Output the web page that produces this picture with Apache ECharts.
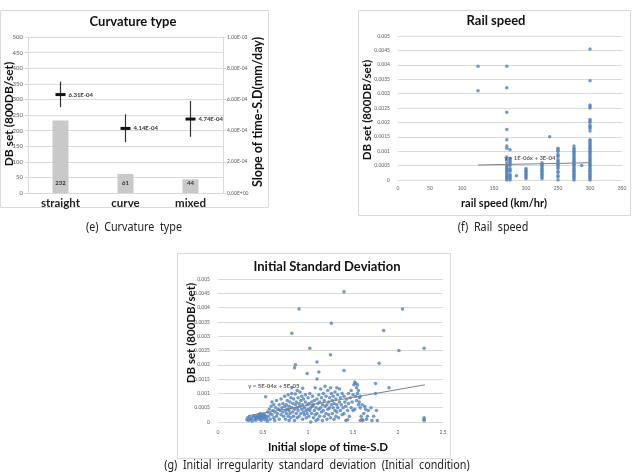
<!DOCTYPE html>
<html><head><meta charset="utf-8">
<script src="https://cdn.jsdelivr.net/npm/echarts@6/dist/echarts.min.js"></script>
<style>html,body{margin:0;padding:0;background:#fff}#c{width:634px;height:474px}</style>
</head><body><div id="c"></div>
<script>
// ---- (e) Curvature type ----
const curvCategories = ['straight', 'curve', 'mixed'];
const curvCounts = [232, 61, 44];
const curvMeans = [6.31e-4, 4.14e-4, 4.74e-4];
const curvLow = [5.5e-4, 3.26e-4, 3.6e-4];
const curvHigh = [7.14e-4, 5.04e-4, 5.9e-4];
const curvLeftTicks = { min: 0, max: 500, interval: 50 };
const curvRightTicks = { min: 0, max: 1e-3, interval: 2e-4 };

// ---- (f) Rail speed ----
const speedGroups = [125, 170, 175, 185, 200, 225, 237, 250, 275, 287, 300];
const speedValues = [
  [0.00395, 0.0031],
  [0.00395, 0.0032, 0.00235, 0.00175, 0.0014, 0.00118, 0.0011, 0.0008, 0.0007, 0.0006, 0.0005, 0.00045, 0.0004, 0.00035, 0.0003, 0.00025, 0.0002, 0.00015, 0.0001, 0.00005, 0],
  [0.00105, 0.00075, 0.0007, 0.00065, 0.0006, 0.00055, 0.0005, 0.0004, 0.00035, 0.0003, 0.0002, 0.00015, 0.0001, 0.00005, 0],
  [0.00015],
  [0.0004, 0.00035, 0.0003, 0.00025, 0.0002, 0.00015, 0.0001, 0.00005],
  [0.0006, 0.00055, 0.0005, 0.00045, 0.0004, 0.00035, 0.0003, 0.00025, 0.0002, 0.00015, 0.0001, 0.00005],
  [0.0015],
  [0.0011, 0.00105, 0.001, 0.0009, 0.00085, 0.0008, 0.0007, 0.00065, 0.0006, 0.00055, 0.0005, 0.00045, 0.0004, 0.0003, 0.00025, 0.00015, 0.0001, 0],
  [0.00118, 0.0011, 0.00105, 0.001, 0.00095, 0.0009, 0.00085, 0.0008, 0.00075, 0.0007, 0.00065, 0.0006, 0.00055, 0.0005, 0.00045, 0.0004, 0.00035, 0.0003, 0.00025, 0.0002, 0.00015, 0.0001, 0.00005, 0],
  [0.0005],
  [0.00455, 0.00345, 0.0026, 0.00255, 0.0025, 0.0021, 0.00205, 0.002, 0.0019, 0.00185, 0.0018, 0.0017, 0.0014, 0.00135, 0.0013, 0.00125, 0.0012, 0.00115, 0.0011, 0.00105, 0.001, 0.00095, 0.0009, 0.00085, 0.0008, 0.00075, 0.0007, 0.00065, 0.0006, 0.00055, 0.0005, 0.00045, 0.0004, 0.00035, 0.0003, 0.00025, 0.0002, 0.00015, 0.0001, 0.00005, 0]
];
const speedTrend = [[125, 0.00052], [300, 0.0006]];
const speedTrendLabel = 'y = 1E-06x + 3E-04';

// ---- (g) Initial Standard Deviation ----
const initPoints = [
  [0.32,0.00008],[0.33,0.00015],[0.34,0.00005],[0.35,0.0002],[0.36,0.0001],[0.37,0.00012],[0.38,0.00003],[0.39,0.00018],[0.40,0.00022],[0.41,0.0001],[0.42,0.00006],[0.43,0.00015],[0.44,0.0002],[0.45,0.00025],[0.46,0.0001],[0.47,0.00018],[0.48,0.00022],[0.48,0.00005],[0.49,0.00012],[0.50,0.0002],[0.50,0.00028],[0.51,0.00015],[0.52,0.00008],[0.53,0.0002],[0.54,0.00012],[0.55,0.00003],[0.45,0.00015],[0.47,0.0003],[0.42,0.00018],[0.52,0.00025],
  [0.55,0.00035],[0.56,0.0002],[0.57,0.00045],[0.58,0.0001],[0.58,0.0003],[0.59,0.00055],[0.60,0.00025],[0.61,0.0004],[0.62,0.00015],[0.62,0.0006],[0.63,0.00035],[0.64,0.0005],[0.65,0.0002],[0.65,0.00075],[0.66,0.0003],[0.67,0.00045],[0.68,0.0001],[0.68,0.0006],[0.69,0.0004],[0.70,0.00025],[0.70,0.0008],[0.71,0.0005],[0.72,0.00035],[0.72,0.00065],[0.73,0.0002],[0.74,0.00055],[0.74,0.0009],[0.75,0.0004],[0.75,0.0001],[0.53,0.00088],[0.60,0.0007],[0.63,0.00005],
  [0.76,0.0006],[0.76,0.0003],[0.77,0.00045],[0.77,0.00075],[0.78,0.0002],[0.78,0.00095],[0.79,0.00055],[0.79,0.0004],[0.80,0.0007],[0.80,0.0003],[0.81,0.00015],[0.81,0.00085],[0.82,0.0005],[0.82,0.001],[0.83,0.00035],[0.83,0.00065],[0.84,0.0002],[0.84,0.0008],[0.85,0.00045],[0.85,0.00005],[0.86,0.0006],[0.86,0.00098],[0.87,0.0003],[0.87,0.0007],[0.88,0.00015],[0.88,0.0005],[0.89,0.00085],[0.89,0.0004],[0.90,0.00065],[0.90,0.0002],[0.91,0.00105],[0.91,0.00055],[0.92,0.0003],[0.92,0.00075],[0.93,0.00045],[0.93,0.0009],[0.94,0.0001],[0.94,0.0006],[0.95,0.00035],[0.95,0.0008],[0.96,0.0005],[0.96,0.00025],[0.97,0.0007],[0.97,0.00095],[0.98,0.0004],[0.98,0.00015],[0.99,0.0006],[0.99,0.0003],[1.00,0.00085],[1.00,0.00045],[0.82,0.0012],[0.88,0.0011],[0.79,0.00005],[0.94,0.00118],
  [1.01,0.0002],[1.01,0.00065],[1.02,0.0004],[1.02,0.001],[1.03,0.0005],[1.03,0.0],[1.04,0.0007],[1.04,0.0003],[1.05,0.0009],[1.05,0.00055],[1.06,0.00015],[1.06,0.0006],[1.07,0.0004],[1.07,0.00075],[1.08,0.00025],[1.08,0.0012],[1.09,0.0005],[1.09,0.00005],[1.10,0.0008],[1.10,0.0003],[1.11,0.00065],[1.11,0.0001],[1.12,0.00045],[1.12,0.00095],[1.13,0.0002],[1.13,0.0007],[1.14,0.0005],[1.14,0.00115],[1.15,0.00035],[1.15,0.00085],[1.16,0.0006],[1.16,0.00005],[1.17,0.0004],[1.17,0.001],[1.18,0.00075],[1.18,0.0002],[1.19,0.00055],[1.19,0.00125],[1.20,0.0003],[1.20,0.0009],[1.21,0.0006],[1.21,0.0001],[1.22,0.00045],[1.22,0.0011],[1.23,0.0007],[1.23,0.00025],[1.24,0.00085],[1.24,0.0005],[1.25,0.0012],[1.25,0.00015],
  [1.26,0.0006],[1.26,0.001],[1.27,0.0003],[1.27,0.00075],[1.28,0.0005],[1.28,0.0009],[1.29,0.0001],[1.29,0.00065],[1.30,0.0004],[1.30,0.00105],[1.31,0.0008],[1.31,0.0002],[1.32,0.0006],[1.32,0.00035],[1.33,0.00095],[1.33,0.0005],[1.34,0.00015],[1.35,0.0007],[1.35,0.00115],[1.36,0.0004],[1.36,0.00085],[1.37,0.0006],[1.38,0.00025],[1.38,0.001],[1.39,0.0005],[1.40,0.0009],[1.40,0.0003],[1.41,0.0007],[1.42,0.00055],[1.42,0.00005],[1.43,0.0008],[1.44,0.0004],[1.45,0.001],[1.45,0.00065],[1.46,0.0002],[1.47,0.00085],[1.48,0.0005],[1.48,0.0011],[1.49,0.0007],[1.50,0.0004],[1.50,0.00095],[1.32,0.0012],[1.44,0.00008],
  [1.51,0.0013],[1.52,0.0014],[1.53,0.00135],[1.53,0.0009],[1.54,0.0012],[1.54,0.00075],[1.55,0.001],[1.55,0.0013],[1.56,0.0006],[1.56,0.0011],[1.57,0.00085],[1.57,0.0007],[1.58,0.0005],[1.52,0.00045],[1.58,0.0009],[1.59,0.0002],[1.60,0.0001],[1.60,0.0006],[1.61,0.00005],[1.62,0.0003],[1.63,0.00055],[1.65,0.0001],[1.66,0.0002],[1.67,0.0004],[1.70,0.0005],[1.71,0.00005],[1.73,0.0002],[1.75,0.001],[1.76,0.0004],[1.77,0.00005],[1.58,0.00005],[1.64,0.00045],
  [0.82,0.0031],[0.9,0.00395],[0.86,0.002],[0.85,0.0019],[1.02,0.00258],[0.99,0.0017],[1.1,0.0021],[1.1,0.0015],[1.12,0.00175],[1.25,0.00235],[1.26,0.00345],[1.4,0.00455],[1.4,0.0018],[1.75,0.00135],[1.79,0.00205],[1.84,0.0032],[1.9,0.0012],[2.01,0.0025],[2.05,0.00395],[2.29,0.00258],[2.29,0.0001],[2.29,0.00005],[2.29,0.00015]
];
const initTrend = [[0.35, 0.00023], [2.3, 0.0013]];
const initTrendLabel = 'y = 5E-04x + 5E-05';

const titles = ['Curvature type', 'Rail speed', 'Initial Standard Deviation'];
const axisNames = ['DB set (800DB/set)', 'Slope of time-S.D(mm/day)', 'rail speed (km/hr)', 'Initial slope of time-S.D'];
const captions = ['(e)  Curvature  type', '(f)  Rail  speed', '(g)  Initial  irregularity  standard  deviation  (Initial  condition)'];

// ---------- build ----------
const FT = 'Lato, "Open Sans", sans-serif';
const CAP = '"Noto Sans", "Open Sans", sans-serif';
const blue = '#4f81bd';
function sci(v) {
  if (!v) return '0.00E+00';
  const e = Math.floor(Math.log10(Math.abs(v)) + 1e-9);
  const m = v / Math.pow(10, e);
  const es = (e < 0 ? '-' : '+') + String(Math.abs(e)).padStart(2, '0');
  return m.toFixed(2) + 'E' + es;
}
const speedData = [];
speedGroups.forEach((s, i) => speedValues[i].forEach(v => speedData.push([s, v])));

const tickLabel = { fontSize: 6, color: '#595959', fontFamily: FT };
const smallTick = { fontSize: 5, color: '#595959', fontFamily: FT };
const gridLine = { show: true, lineStyle: { color: '#d9d9d9', width: 1 } };
function nameText(x, y, text, size, rot) {
  return { type: 'text', x: x, y: y, rotation: rot ? Math.PI / 2 : 0,
    style: { text: text, fontSize: size, fontWeight: 'bold', fill: '#111', fontFamily: FT, align: 'center', verticalAlign: 'middle' } };
}
function capText(x, y, text) {
  return { type: 'text', x: x, y: y, scaleX: 0.86,
    style: { text: text, fontSize: 12.5, fill: '#222', fontFamily: CAP, align: 'center', verticalAlign: 'middle' } };
}

const chart = echarts.init(document.getElementById('c'), null, { renderer: 'canvas' });
chart.setOption({
  animation: false,
  grid: [
    { left: 28, right: 411, top: 37, bottom: 281 },
    { left: 398, right: 12, top: 36, bottom: 294 },
    { left: 218, right: 191, top: 279, bottom: 52 }
  ],
  xAxis: [
    { type: 'category', gridIndex: 0, data: curvCategories,
      axisLine: { lineStyle: { color: '#d9d9d9' } }, axisTick: { show: false },
      axisLabel: { fontSize: 11.5, fontWeight: 'bold', color: '#222', fontFamily: FT, margin: 4 } },
    { type: 'value', gridIndex: 1, min: 0, max: 350, interval: 50,
      axisLine: { show: false }, axisTick: { show: false }, splitLine: { show: false },
      axisLabel: Object.assign({ margin: 6 }, smallTick) },
    { type: 'value', gridIndex: 2, min: 0, max: 2.5, interval: 0.5,
      axisLine: { show: false }, axisTick: { show: false }, splitLine: { show: false },
      axisLabel: Object.assign({ margin: 8 }, smallTick) }
  ],
  yAxis: [
    { type: 'value', gridIndex: 0, min: curvLeftTicks.min, max: curvLeftTicks.max, interval: curvLeftTicks.interval,
      axisLine: { show: true, lineStyle: { color: '#d9d9d9' } }, axisTick: { show: true, length: 3, lineStyle: { color: '#d9d9d9' } },
      splitLine: gridLine, axisLabel: Object.assign({ margin: 5 }, tickLabel) },
    { type: 'value', gridIndex: 0, position: 'right', min: curvRightTicks.min, max: curvRightTicks.max, interval: curvRightTicks.interval,
      axisLine: { show: true, lineStyle: { color: '#d9d9d9' } }, axisTick: { show: true, length: 3, lineStyle: { color: '#d9d9d9' } },
      splitLine: { show: false },
      axisLabel: Object.assign({ margin: 4, formatter: v => sci(v) }, smallTick) },
    { type: 'value', gridIndex: 1, min: 0, max: 0.005, interval: 0.0005,
      axisLine: { show: false }, axisTick: { show: false }, splitLine: gridLine,
      axisLabel: Object.assign({ margin: 8, formatter: v => String(+v.toFixed(4)) }, smallTick) },
    { type: 'value', gridIndex: 2, min: 0, max: 0.005, interval: 0.0005,
      axisLine: { show: false }, axisTick: { show: false }, splitLine: gridLine,
      axisLabel: Object.assign({ margin: 8, formatter: v => String(+v.toFixed(4)) }, smallTick) }
  ],
  series: [
    { type: 'bar', xAxisIndex: 0, yAxisIndex: 0, data: curvCounts, barWidth: 16,
      itemStyle: { color: '#c9c9c9' },
      label: { show: true, position: 'insideBottom', distance: 7, fontSize: 6, fontWeight: 'bold', color: '#333', fontFamily: FT } },
    { type: 'custom', xAxisIndex: 0, yAxisIndex: 1,
      data: curvCategories.map((c, i) => [i, curvMeans[i], curvLow[i], curvHigh[i]]),
      renderItem: (params, api) => {
        const i = api.value(0);
        const m = api.coord([i, api.value(1)]);
        const lo = api.coord([i, api.value(2)]);
        const hi = api.coord([i, api.value(3)]);
        return { type: 'group', children: [
          { type: 'line', shape: { x1: m[0], y1: lo[1], x2: m[0], y2: hi[1] }, style: { stroke: '#333', lineWidth: 1.2 } },
          { type: 'line', shape: { x1: m[0] - 5, y1: m[1], x2: m[0] + 5, y2: m[1] }, style: { stroke: '#111', lineWidth: 3 } },
          { type: 'text', x: m[0] + 8, y: m[1], style: { text: sci(api.value(1)), fontSize: 6, fontWeight: 'bold', fill: '#333', fontFamily: FT, verticalAlign: 'middle' } }
        ] };
      } },
    { type: 'scatter', xAxisIndex: 1, yAxisIndex: 2, data: speedData, symbolSize: 3.5, itemStyle: { color: blue } },
    { type: 'line', xAxisIndex: 1, yAxisIndex: 2, data: speedTrend, symbol: 'none', lineStyle: { color: '#7f7f7f', width: 1 } },
    { type: 'scatter', xAxisIndex: 2, yAxisIndex: 3, data: initPoints, symbolSize: 3.5, itemStyle: { color: blue } },
    { type: 'line', xAxisIndex: 2, yAxisIndex: 3, data: initTrend, symbol: 'none', lineStyle: { color: '#7f7f7f', width: 1 } },
    { type: 'scatter', xAxisIndex: 1, yAxisIndex: 2, data: [[206, 0.00077]], symbolSize: 0, silent: true,
      label: { show: true, position: 'inside', formatter: speedTrendLabel, fontSize: 6, fontWeight: 'bold', color: '#333', fontFamily: FT } },
    { type: 'scatter', xAxisIndex: 2, yAxisIndex: 3, data: [[0.62, 0.00124]], symbolSize: 0, silent: true,
      label: { show: true, position: 'inside', formatter: initTrendLabel, fontSize: 6, fontWeight: 'bold', color: '#333', fontFamily: FT } }
  ],
  graphic: [
    { type: 'rect', shape: { x: 0.5, y: 10.5, width: 268, height: 197 }, style: { fill: 'none', stroke: '#d9d9d9', lineWidth: 1 }, z: -1 },
    { type: 'rect', shape: { x: 358.5, y: 10.5, width: 272, height: 205 }, style: { fill: 'none', stroke: '#d9d9d9', lineWidth: 1 }, z: -1 },
    { type: 'rect', shape: { x: 177.5, y: 253.5, width: 273, height: 205 }, style: { fill: 'none', stroke: '#d9d9d9', lineWidth: 1 }, z: -1 },
    { type: 'text', x: 133, y: 22, style: { text: titles[0], fontSize: 13, fontWeight: 'bold', fill: '#111', fontFamily: FT, align: 'center', verticalAlign: 'middle' } },
    { type: 'text', x: 496, y: 21, style: { text: titles[1], fontSize: 13, fontWeight: 'bold', fill: '#111', fontFamily: FT, align: 'center', verticalAlign: 'middle' } },
    { type: 'text', x: 327, y: 267, style: { text: titles[2], fontSize: 13, fontWeight: 'bold', fill: '#111', fontFamily: FT, align: 'center', verticalAlign: 'middle' } },
    nameText(9, 114, axisNames[0], 12, true),
    nameText(258, 112, axisNames[1], 12.5, true),
    nameText(367, 110, axisNames[0], 11.5, true),
    nameText(504, 203, axisNames[2], 11, false),
    nameText(191, 333, axisNames[0], 11.5, true),
    nameText(328, 447, axisNames[3], 11.5, false),
    capText(134, 227, captions[0]),
    capText(493, 227, captions[1]),
    capText(317, 465, captions[2])
  ]
});
</script></body></html>
